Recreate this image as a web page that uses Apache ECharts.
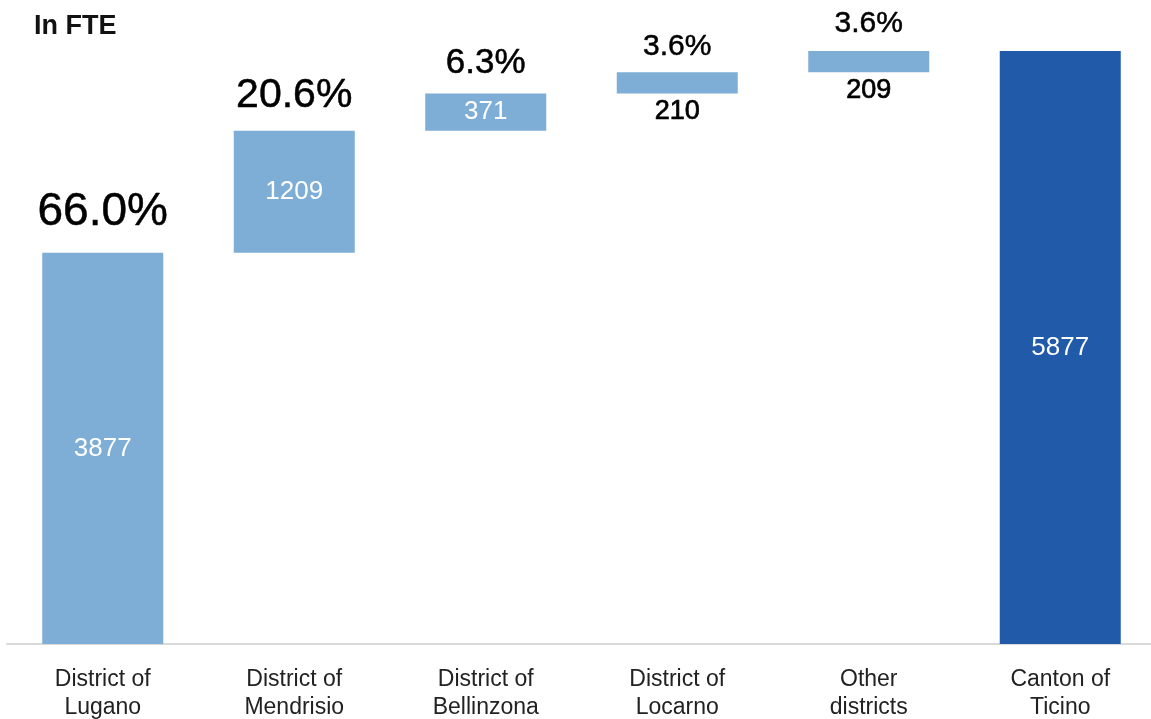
<!DOCTYPE html>
<html>
<head>
<meta charset="utf-8">
<script src="https://cdn.jsdelivr.net/npm/echarts@6/dist/echarts.min.js"></script>
<style>
html, body { margin: 0; padding: 0; background: #fff; }
#chart { width: 1151px; height: 719px; }
</style>
</head>
<body>
<div id="chart"></div>
<script>
// districts, FTE and share of canton total
const categories = ['District of\nLugano', 'District of\nMendrisio', 'District of\nBellinzona', 'District of\nLocarno', 'Other\ndistricts', 'Canton of\nTicino']
const fteValues = [3877, 1209, 371, 210, 209, 5877]
const shareLabels = ['66.0%', '20.6%', '6.3%', '3.6%', '3.6%', '']
const isTotal = [false, false, false, false, false, true]

// font size / gap of the share label shrinks with the bar
const shareFont = [46, 41, 35, 30, 30, 30]
const shareGap = [17, 15, 13, 10, 12, 10]
// small bars get their value under the bar instead of inside
const valueBelow = [false, false, false, true, true, false]

const lightBlue = '#7eadd5'
const darkBlue = '#205aa8'
const font = 'Liberation Sans'

// waterfall offsets
const bases = []
let run = 0
fteValues.forEach((v, i) => {
  if (isTotal[i]) {
    bases.push(0)
  } else {
    bases.push(run)
    run += v
  }
})
const tops = fteValues.map((v, i) => bases[i] + v)

const chart = echarts.init(document.getElementById('chart'))
chart.setOption({
  animation: false,
  title: {
    text: 'In FTE',
    left: 29,
    top: 8,
    textStyle: { fontFamily: font, fontSize: 27, fontWeight: 'bold', color: '#111' }
  },
  grid: { left: 7, width: 1149, top: 38.6, bottom: 75, outerBoundsMode: 'none' },
  xAxis: {
    type: 'category',
    data: categories,
    axisLine: { lineStyle: { color: '#d9d9d9', width: 2 } },
    axisTick: { show: false },
    axisLabel: {
      fontFamily: font,
      fontSize: 23,
      color: '#222',
      lineHeight: 28,
      margin: 22
    }
  },
  yAxis: {
    type: 'value',
    min: 0,
    max: 6000,
    show: false
  },
  series: [
    {
      name: 'base',
      type: 'bar',
      stack: 'w',
      barWidth: 121,
      itemStyle: { color: 'transparent' },
      silent: true,
      data: bases.map((b, i) => ({
        value: b,
        label: {
          show: valueBelow[i],
          position: 'insideTop',
          distance: 5,
          formatter: () => String(fteValues[i]),
          fontFamily: font,
          fontSize: 27,
          color: '#000',
          textBorderColor: '#000',
          textBorderWidth: 0.7
        }
      }))
    },
    {
      name: 'FTE',
      type: 'bar',
      stack: 'w',
      barWidth: 121,
      data: fteValues.map((v, i) => ({
        value: v,
        itemStyle: { color: isTotal[i] ? darkBlue : lightBlue },
        label: {
          show: !valueBelow[i],
          position: 'inside',
          fontFamily: font,
          fontSize: 26,
          color: '#fff'
        }
      }))
    },
    {
      name: 'share',
      type: 'scatter',
      symbolSize: 0,
      silent: true,
      itemStyle: { opacity: 1 },
      data: tops.map((t, i) => ({
        value: t,
        label: {
          show: shareLabels[i] !== '',
          position: 'top',
          distance: shareGap[i],
          formatter: shareLabels[i],
          fontFamily: font,
          fontSize: shareFont[i],
          color: '#000',
          textBorderColor: '#000',
          textBorderWidth: 0.5
        }
      }))
    }
  ]
})
</script>
</body>
</html>
